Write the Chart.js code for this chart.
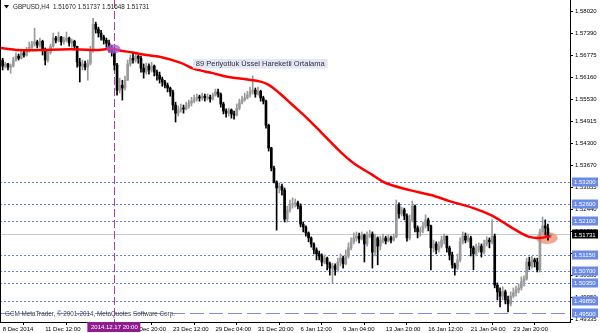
<!DOCTYPE html>
<html>
<head>
<meta charset="utf-8">
<script src="https://cdn.jsdelivr.net/npm/chart.js@4.4.1/dist/chart.umd.min.js"></script>
<style>
  html, body { margin: 0; padding: 0; background: #fff; }
  #wrap { width: 600px; height: 333px; position: relative; }
</style>
</head>
<body>
<div id="wrap"><canvas id="chart"></canvas></div>
<script>
/* GBPUSD H4 — candles + EMA(89) drawn as Chart.js floating bars */

// --- data (H4 bars from 8 Dec 2014 20:00) ---
const opens = [
  1.5665,1.5648,1.5654,1.5645,1.5648,1.5665,1.5676,1.5670,1.5685,1.5679,1.5693,1.5701,1.5710,1.5716,1.5707,1.5718,1.5693,1.5665,1.5687,1.5704,
  1.5727,1.5721,1.5730,1.5716,1.5721,1.5727,1.5713,1.5718,1.5704,1.5659,1.5648,1.5654,1.5645,1.5656,1.5693,1.5766,1.5752,1.5741,1.5730,1.5721,
  1.5713,1.5699,1.5687,1.5651,1.5580,1.5594,1.5586,1.5608,1.5654,1.5670,1.5665,1.5676,1.5670,1.5642,1.5631,1.5648,1.5637,1.5648,1.5631,1.5622,
  1.5611,1.5603,1.5594,1.5586,1.5575,1.5538,1.5515,1.5524,1.5529,1.5527,1.5535,1.5544,1.5549,1.5555,1.5560,1.5558,1.5563,1.5558,1.5560,1.5555,
  1.5566,1.5575,1.5569,1.5541,1.5521,1.5515,1.5524,1.5513,1.5510,1.5529,1.5544,1.5552,1.5558,1.5566,1.5575,1.5580,1.5569,1.5577,1.5558,1.5549,
  1.5481,1.5417,1.5360,1.5321,1.5304,1.5309,1.5298,1.5216,1.5242,1.5256,1.5259,1.5262,1.5253,1.5202,1.5194,1.5177,1.5163,1.5146,1.5129,1.5118,
  1.5112,1.5095,1.5106,1.5090,1.5078,1.5084,1.5073,1.5095,1.5106,1.5090,1.5112,1.5135,1.5152,1.5163,1.5168,1.5160,1.5171,1.5146,1.5168,1.5174,
  1.5123,1.5163,1.5140,1.5157,1.5163,1.5154,1.5163,1.5157,1.5166,1.5256,1.5231,1.5242,1.5225,1.5163,1.5214,1.5253,1.5191,1.5180,1.5185,1.5197,
  1.5214,1.5197,1.5135,1.5146,1.5129,1.5140,1.5157,1.5168,1.5135,1.5115,1.5087,1.5078,1.5101,1.5152,1.5168,1.5157,1.5163,1.5135,1.5118,1.5129,
  1.5140,1.5123,1.5146,1.5157,1.5152,1.5168,1.5030,1.5011,1.4999,1.5011,1.4988,1.4977,1.4999,1.5008,1.5016,1.5022,1.5039,1.5047,1.5095,1.5084,
  1.5101,1.5095,1.5073,1.5180,1.5197,1.5191,1.51670
];
const highs = [
  1.5670,1.5659,1.5656,1.5654,1.5673,1.5685,1.5682,1.5690,1.5693,1.5701,1.5716,1.5718,1.5755,1.5721,1.5727,1.5721,1.5699,1.5693,1.5710,1.5741,
  1.5732,1.5744,1.5732,1.5730,1.5744,1.5730,1.5724,1.5721,1.5704,1.5670,1.5665,1.5662,1.5665,1.5704,1.5783,1.5772,1.5758,1.5749,1.5735,1.5727,
  1.5721,1.5707,1.5699,1.5656,1.5614,1.5608,1.5620,1.5665,1.5679,1.5685,1.5682,1.5679,1.5676,1.5654,1.5656,1.5654,1.5659,1.5651,1.5637,1.5631,
  1.5617,1.5608,1.5600,1.5589,1.5580,1.5546,1.5535,1.5541,1.5538,1.5546,1.5552,1.5560,1.5566,1.5569,1.5566,1.5572,1.5569,1.5569,1.5566,1.5572,
  1.5583,1.5583,1.5572,1.5546,1.5527,1.5529,1.5527,1.5521,1.5541,1.5555,1.5563,1.5572,1.5577,1.5589,1.5620,1.5586,1.5589,1.5580,1.5563,1.5552,
  1.5484,1.5419,1.5366,1.5324,1.5318,1.5315,1.5304,1.5253,1.5270,1.5276,1.5273,1.5267,1.5259,1.5208,1.5197,1.5180,1.5166,1.5149,1.5135,1.5126,
  1.5118,1.5115,1.5109,1.5095,1.5092,1.5090,1.5106,1.5118,1.5112,1.5129,1.5149,1.5163,1.5177,1.5180,1.5177,1.5180,1.5174,1.5180,1.5185,1.5180,
  1.5174,1.5166,1.5168,1.5174,1.5168,1.5171,1.5168,1.5174,1.5270,1.5262,1.5250,1.5247,1.5231,1.5228,1.5267,1.5256,1.5197,1.5194,1.5208,1.5228,
  1.5219,1.5199,1.5157,1.5152,1.5152,1.5168,1.5174,1.5168,1.5140,1.5123,1.5092,1.5118,1.5163,1.5180,1.5177,1.5174,1.5168,1.5140,1.5146,1.5149,
  1.5146,1.5157,1.5166,1.5163,1.5214,1.5174,1.5036,1.5022,1.5025,1.5016,1.4999,1.5011,1.5022,1.5027,1.5033,1.5053,1.5056,1.5106,1.5109,1.5112,
  1.5106,1.5106,1.5188,1.5222,1.5214,1.5202,1.51737
];
const lows = [
  1.5637,1.5642,1.5637,1.5628,1.5645,1.5662,1.5665,1.5668,1.5673,1.5676,1.5687,1.5696,1.5704,1.5699,1.5701,1.5679,1.5651,1.5659,1.5682,1.5701,
  1.5713,1.5716,1.5707,1.5710,1.5716,1.5704,1.5701,1.5696,1.5645,1.5603,1.5637,1.5637,1.5608,1.5651,1.5687,1.5741,1.5730,1.5721,1.5710,1.5701,
  1.5687,1.5676,1.5637,1.5566,1.5572,1.5552,1.5580,1.5608,1.5648,1.5656,1.5659,1.5656,1.5631,1.5614,1.5625,1.5625,1.5631,1.5620,1.5608,1.5600,
  1.5591,1.5586,1.5575,1.5563,1.5524,1.5490,1.5507,1.5518,1.5515,1.5524,1.5529,1.5535,1.5544,1.5549,1.5549,1.5552,1.5549,1.5552,1.5546,1.5552,
  1.5563,1.5560,1.5532,1.5513,1.5504,1.5507,1.5501,1.5498,1.5507,1.5524,1.5541,1.5549,1.5555,1.5560,1.5569,1.5560,1.5566,1.5549,1.5541,1.5473,
  1.5408,1.5352,1.5318,1.5185,1.5290,1.5284,1.5208,1.5208,1.5236,1.5247,1.5250,1.5245,1.5194,1.5180,1.5168,1.5152,1.5137,1.5118,1.5101,1.5101,
  1.5084,1.5090,1.5073,1.5058,1.5036,1.5058,1.5067,1.5084,1.5078,1.5087,1.5106,1.5129,1.5146,1.5154,1.5149,1.5157,1.5095,1.5140,1.5163,1.5078,
  1.5112,1.5087,1.5129,1.5149,1.5146,1.5152,1.5149,1.5154,1.5163,1.5219,1.5225,1.5214,1.5154,1.5157,1.5208,1.5180,1.5163,1.5168,1.5177,1.5191,
  1.5183,1.5073,1.5123,1.5118,1.5123,1.5135,1.5146,1.5123,1.5101,1.5078,1.5058,1.5073,1.5095,1.5146,1.5149,1.5152,1.5112,1.5073,1.5112,1.5123,
  1.5109,1.5118,1.5140,1.5135,1.5146,1.5022,1.4988,1.4968,1.4988,1.4977,1.4954,1.4971,1.4994,1.4999,1.5008,1.5016,1.5027,1.5044,1.5073,1.5078,
  1.5081,1.5067,1.5067,1.5177,1.5171,1.5157,1.51648
];
const closes = [
  1.5648,1.5654,1.5645,1.5648,1.5665,1.5676,1.5670,1.5685,1.5679,1.5693,1.5701,1.5710,1.5716,1.5707,1.5718,1.5693,1.5665,1.5687,1.5704,1.5727,
  1.5721,1.5730,1.5716,1.5721,1.5727,1.5713,1.5718,1.5704,1.5659,1.5648,1.5654,1.5645,1.5656,1.5693,1.5766,1.5752,1.5741,1.5730,1.5721,1.5713,
  1.5699,1.5687,1.5651,1.5580,1.5594,1.5586,1.5608,1.5654,1.5670,1.5665,1.5676,1.5670,1.5642,1.5631,1.5648,1.5637,1.5648,1.5631,1.5622,1.5611,
  1.5603,1.5594,1.5586,1.5575,1.5538,1.5515,1.5524,1.5529,1.5527,1.5535,1.5544,1.5549,1.5555,1.5560,1.5558,1.5563,1.5558,1.5560,1.5555,1.5566,
  1.5575,1.5569,1.5541,1.5521,1.5515,1.5524,1.5513,1.5510,1.5529,1.5544,1.5552,1.5558,1.5566,1.5575,1.5580,1.5569,1.5577,1.5558,1.5549,1.5481,
  1.5417,1.5360,1.5321,1.5304,1.5309,1.5298,1.5216,1.5242,1.5256,1.5259,1.5262,1.5253,1.5202,1.5194,1.5177,1.5163,1.5146,1.5129,1.5118,1.5112,
  1.5095,1.5106,1.5090,1.5078,1.5084,1.5073,1.5095,1.5106,1.5090,1.5112,1.5135,1.5152,1.5163,1.5168,1.5160,1.5171,1.5146,1.5168,1.5174,1.5123,
  1.5163,1.5140,1.5157,1.5163,1.5154,1.5163,1.5157,1.5166,1.5256,1.5231,1.5242,1.5225,1.5163,1.5214,1.5253,1.5191,1.5180,1.5185,1.5197,1.5214,
  1.5197,1.5135,1.5146,1.5129,1.5140,1.5157,1.5168,1.5135,1.5115,1.5087,1.5078,1.5101,1.5152,1.5168,1.5157,1.5163,1.5135,1.5118,1.5129,1.5140,
  1.5123,1.5146,1.5157,1.5152,1.5168,1.5030,1.5011,1.4999,1.5011,1.4988,1.4977,1.4999,1.5008,1.5016,1.5022,1.5039,1.5047,1.5095,1.5084,1.5101,
  1.5095,1.5073,1.5180,1.5197,1.5191,1.5167,1.51731
];

// EMA(89) at a few bars
const emaBars   = [-1, 6, 14, 22, 29, 35, 41, 44, 49, 54, 59, 67, 72, 79, 85, 92, 97, 100, 104, 109, 114, 120, 127, 132, 139, 144, 153, 161, 168, 177, 184, 188, 193, 198, 202, 206];
const emaValues = [1.5699, 1.5693, 1.5693, 1.5695, 1.5695, 1.5693, 1.5697, 1.5692, 1.5686, 1.5679, 1.5674, 1.5657, 1.5640, 1.5628, 1.5617, 1.5610, 1.5604, 1.5595, 1.5572, 1.5538, 1.5504, 1.5459, 1.5406, 1.5374, 1.5341, 1.5318, 1.5298, 1.5284, 1.5267, 1.5247, 1.5226, 1.5208, 1.5185, 1.5166, 1.5163, 1.5168];

// axis ticks
const yTickValues = [1.58020, 1.57390, 1.56775, 1.56160, 1.55530, 1.54915, 1.54300, 1.53670, 1.53055, 1.52440, 1.51810, 1.51195, 1.50580, 1.49950, 1.49335];
const xTickBars   = [0, 16, 32, 48, 64, 80, 96, 112, 128, 144, 160, 176, 192];
const xTickLabels = ["8 Dec 2014", "11 Dec 12:00", "16 Dec 04:00", "18 Dec 20:00", "23 Dec 12:00", "29 Dec 04:00", "31 Dec 20:00",
                     "6 Jan 12:00", "9 Jan 04:00", "13 Jan 20:00", "16 Jan 12:00", "21 Jan 04:00", "23 Jan 20:00"];

// horizontal lines on the chart
const dottedLevels = [1.53200, 1.52600, 1.52100, 1.51150, 1.50700, 1.50350, 1.49850];
const dashedLevels = [1.49500];
const vlineBar = 42, vlineLabel = "2014.12.17 20:00";
const noteBar = 71.5, notePrice = 1.5668, noteText = "89 Periyotluk Üssel Hareketli Ortalama";

const Y_MIN = 1.49258, Y_MAX = 1.58344;
const X_MIN = -1, X_MAX = 213.3;

const FONT = "'Liberation Sans', Arial, sans-serif";
const BULL = "#9a9a9a", BEAR = "#000000";
const LEVEL_BLUE = "#6283e4";

const idx = closes.map((_, i) => i);
const last = closes.length - 1;
const candleColor = c => closes[c.dataIndex] >= opens[c.dataIndex] ? BULL : BEAR;

function ellipse(ctx, cx, cy, rx, ry, fill) {
  ctx.beginPath();
  ctx.ellipse(cx, cy, rx, ry, 0, 0, Math.PI * 2);
  ctx.fillStyle = fill;
  ctx.fill();
}

const overlay = {
  id: "overlay",
  beforeDatasetsDraw(chart) {
    const { ctx, chartArea: a, scales: { x, y } } = chart;
    ctx.save();
    ctx.beginPath(); ctx.rect(a.left, a.top, a.width, a.height); ctx.clip();
    ctx.lineWidth = 1;
    // bid line
    let py = Math.round(y.getPixelForValue(closes[last])) + 0.5;
    ctx.strokeStyle = "#c8c8c8";
    ctx.beginPath(); ctx.moveTo(a.left, py); ctx.lineTo(a.right, py); ctx.stroke();
    // levels
    ctx.strokeStyle = LEVEL_BLUE;
    ctx.setLineDash([2, 2]);
    dottedLevels.forEach(p => {
      py = Math.round(y.getPixelForValue(p)) + 0.5;
      ctx.beginPath(); ctx.moveTo(a.left, py); ctx.lineTo(a.right, py); ctx.stroke();
    });
    ctx.strokeStyle = "#7590e6";
    ctx.setLineDash([14, 5]);
    dashedLevels.forEach(p => {
      py = Math.round(y.getPixelForValue(p)) + 0.5;
      ctx.beginPath(); ctx.moveTo(a.left, py); ctx.lineTo(a.right, py); ctx.stroke();
    });
    // vertical line
    const vx = Math.round(x.getPixelForValue(vlineBar)) + 0.5;
    ctx.strokeStyle = "#b03cb4";
    ctx.setLineDash([8, 3]);
    ctx.beginPath(); ctx.moveTo(vx, a.top); ctx.lineTo(vx, a.bottom); ctx.stroke();
    ctx.setLineDash([]);
    // highlight at the end of the EMA
    ellipse(ctx, x.getPixelForValue(204.6), y.getPixelForValue(1.5163), 11, 6, "rgba(240,130,95,0.7)");
    ctx.restore();
  },
  afterDatasetsDraw(chart) {
    const { ctx, chartArea: a, scales: { x, y } } = chart;
    ctx.save();
    ellipse(ctx, x.getPixelForValue(41.7), y.getPixelForValue(1.5696), 7, 4.5, "rgba(165,90,215,0.75)");
    // note label
    ctx.font = "7.5px " + FONT;
    const nx = x.getPixelForValue(noteBar), ny = y.getPixelForValue(notePrice);
    const w = ctx.measureText(noteText).width;
    ctx.fillStyle = "#e2e6f7";
    ctx.fillRect(nx, ny, w + 6, 9.5);
    ctx.fillStyle = "#333";
    ctx.textBaseline = "middle";
    ctx.fillText(noteText, nx + 3, ny + 5);
    // header
    ctx.fillStyle = "#000";
    ctx.beginPath(); ctx.moveTo(4, 5); ctx.lineTo(9, 5); ctx.lineTo(6.5, 8.5); ctx.closePath(); ctx.fill();
    ctx.font = "6.3px " + FONT;
    ctx.fillStyle = "#222";
    const head = "GBPUSD,H4  " + [opens[last], highs[last], lows[last], closes[last]].map(v => v.toFixed(5)).join(" ");
    ctx.fillText(head, 13, 7);
    // copyright
    ctx.fillStyle = "#444";
    ctx.fillText("GCM MetaTrader, © 2001-2014, MetaQuotes Software Corp.", 5, a.bottom - 8);
    // left frame
    ctx.strokeStyle = "#000";
    ctx.lineWidth = 1;
    ctx.beginPath(); ctx.moveTo(a.left + 0.5, a.top); ctx.lineTo(a.left + 0.5, a.bottom); ctx.stroke();
    ctx.restore();
  },
  afterDraw(chart) {
    const { ctx, chartArea: a, scales: { x, y } } = chart;
    ctx.save();
    ctx.font = "6px " + FONT;
    ctx.textBaseline = "middle";
    const box = (p, bg, fg) => {
      const py = y.getPixelForValue(p);
      ctx.fillStyle = bg;
      ctx.fillRect(a.right + 2, Math.round(py) - 4.5, 26, 9);
      ctx.fillStyle = fg;
      ctx.fillText(p.toFixed(5), a.right + 4, py + 0.5);
    };
    dottedLevels.concat(dashedLevels).forEach(p => box(p, "#6a8ae8", "#fff"));
    box(closes[last], "#000", "#fff");
    // vertical line time label
    const vx = x.getPixelForValue(vlineBar);
    ctx.fillStyle = "#8e1c8e";
    ctx.fillRect(vx - 27, a.bottom, 53, 10);
    ctx.fillStyle = "#fff";
    ctx.textAlign = "center";
    ctx.fillText(vlineLabel, vx, a.bottom + 5.5);
    ctx.restore();
  }
};

new Chart(document.getElementById("chart"), {
  type: "bar",
  data: {
    datasets: [
      { type: "line", label: "EMA 89", data: emaBars.map((b, i) => ({ x: b, y: emaValues[i] })),
        borderColor: "#ff0000", borderWidth: 2.5, pointRadius: 0, tension: 0.35, order: 0 },
      { label: "body", data: idx.map(i => ({ x: i, y: [opens[i], closes[i]] })),
        backgroundColor: candleColor, barThickness: 2, minBarLength: 1, grouped: false, order: 1 },
      { label: "wick", data: idx.map(i => ({ x: i, y: [lows[i], highs[i]] })),
        backgroundColor: candleColor, barThickness: 1, grouped: false, order: 2 },
    ],
  },
  options: {
    responsive: true,
    maintainAspectRatio: false,
    animation: false,
    layout: { padding: 0 },
    plugins: { legend: { display: false }, tooltip: { enabled: false } },
    scales: {
      x: {
        type: "linear", min: X_MIN, max: X_MAX, offset: false,
        grid: { drawOnChartArea: false, tickLength: 3, color: "#000" },
        border: { color: "#000" },
        ticks: { font: { family: FONT, size: 6 }, color: "#000", padding: 1, align: "start", maxRotation: 0, autoSkip: false,
                 callback: (v, i) => xTickLabels[i] },
        afterBuildTicks: s => { s.ticks = xTickBars.map(v => ({ value: v })); },
        afterFit: s => { s.height = 11; s.paddingLeft = 0; s.paddingRight = 0; },
      },
      y: {
        position: "right", min: Y_MIN, max: Y_MAX,
        grid: { drawOnChartArea: false, tickLength: 3, color: "#000" },
        border: { color: "#000" },
        ticks: { font: { family: FONT, size: 6 }, color: "#000", padding: 2, callback: v => v.toFixed(5) },
        afterBuildTicks: s => { s.ticks = yTickValues.map(v => ({ value: v })); },
        afterFit: s => { s.width = 30; s.paddingTop = 0; s.paddingBottom = 0; },
      },
    },
  },
  plugins: [overlay],
});
</script>
</body>
</html>
